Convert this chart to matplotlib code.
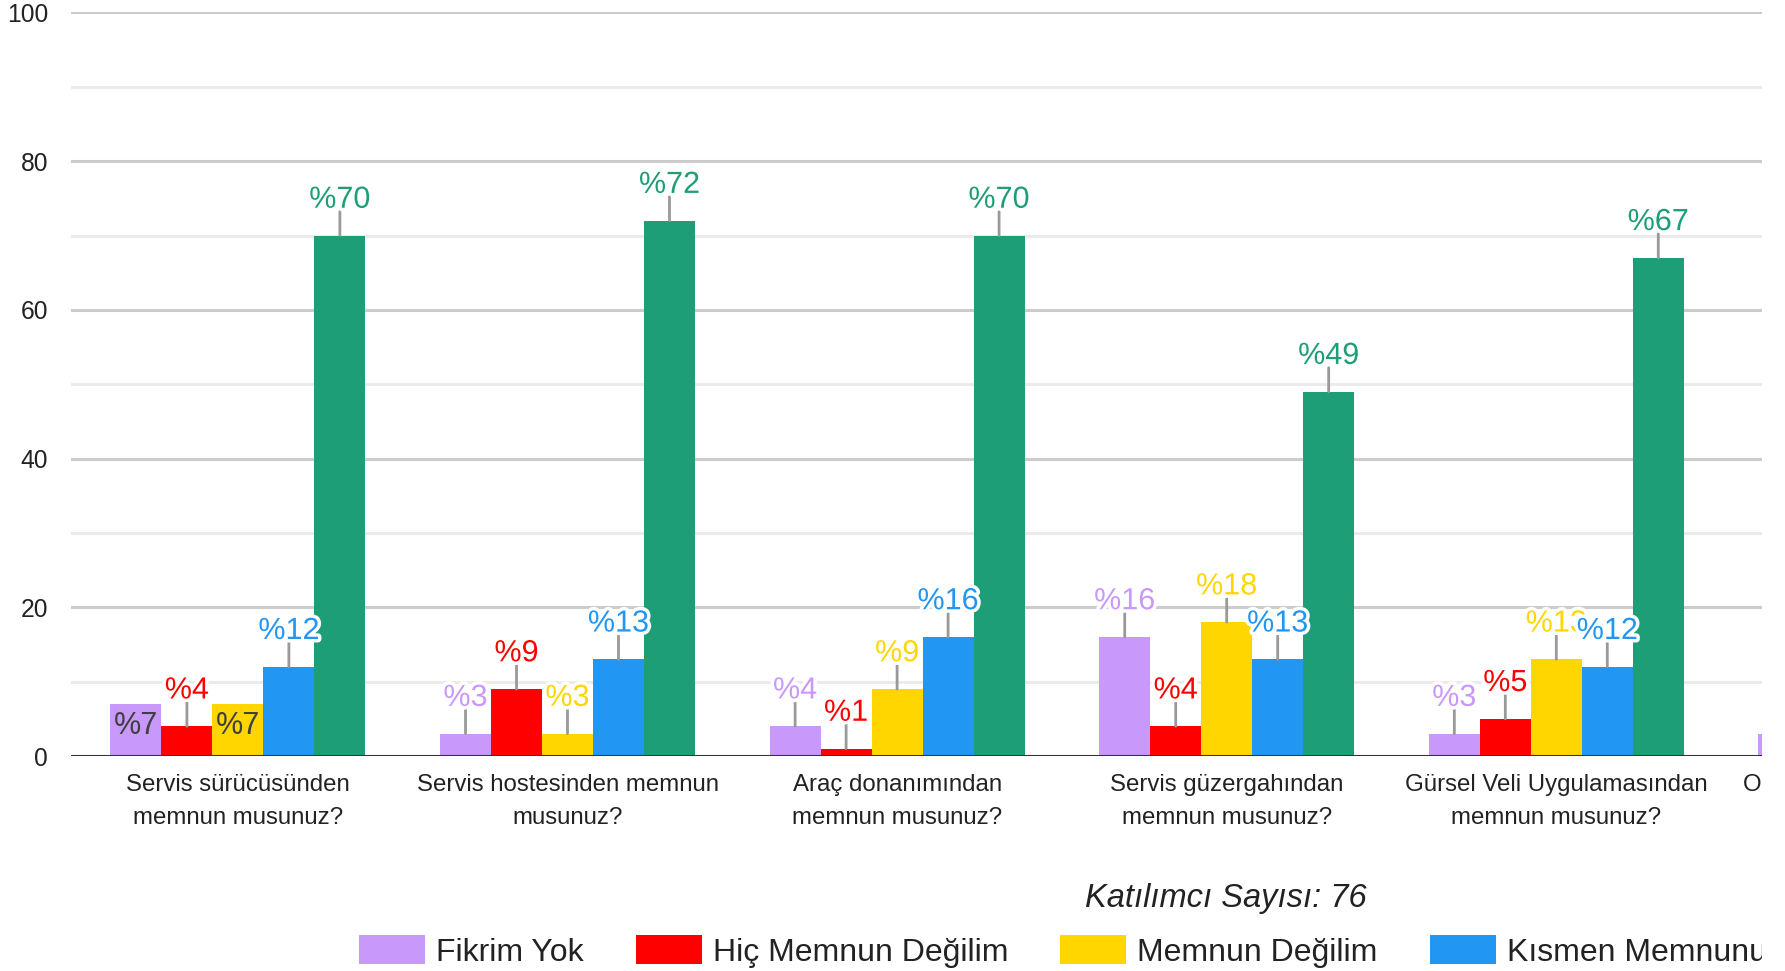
import numpy as np
import matplotlib
matplotlib.use("Agg")
import matplotlib.pyplot as plt
from matplotlib.patches import Patch, Rectangle
import matplotlib.patheffects as pe

plt.rcParams['font.family'] = ['Liberation Sans', 'DejaVu Sans']

questions = [
    "Servis sürücüsünden\nmemnun musunuz?",
    "Servis hostesinden memnun\nmusunuz?",
    "Araç donanımından\nmemnun musunuz?",
    "Servis güzergahından\nmemnun musunuz?",
    "Gürsel Veli Uygulamasından\nmemnun musunuz?",
    "Okul ulaşımından memnun\nmusunuz?",
]
series_names = ["Fikrim Yok", "Hiç Memnun Değilim", "Memnun Değilim",
                "Kısmen Memnunum", "Memnunum"]
fikrim_yok = [7, 3, 4, 16, 3, 3]
hic_memnun = [4, 9, 1, 4, 5, np.nan]
memnun_degil = [7, 3, 9, 18, 13, np.nan]
kismen = [12, 13, 16, 13, 12, np.nan]
memnunum = [70, 72, 70, 49, 67, np.nan]
katilimci = 76

series = [fikrim_yok, hic_memnun, memnun_degil, kismen, memnunum]
colors = ["#c899fb", "#ff0000", "#ffd600", "#2196f3", "#1e9e77"]
# labels that sit inside their bar (series, question)
inside = [(0, 0), (2, 0)]

W, H = 1785, 971
fig = plt.figure(figsize=(W / 100, H / 100), dpi=100)
ax = fig.add_axes([71 / W, 1 - 756 / H, 1 - 71 / W, (756 - 12.5) / H])

bw = 0.1547
x = np.arange(len(questions))
for k, (vals, col) in enumerate(zip(series, colors)):
    ax.bar(x + (k - 2) * bw, vals, bw, color=col, zorder=2)

for k, (vals, col) in enumerate(zip(series, colors)):
    for i, v in enumerate(vals):
        if np.isnan(v):
            continue
        xc = i + (k - 2) * bw
        txt = "%" + str(int(v))
        if (k, i) in inside:
            ax.annotate(txt, xy=(xc, v), xytext=(0, -16), textcoords='offset points',
                        ha='center', va='center', fontsize=22, color='#404040', zorder=5)
            continue
        ax.annotate('', xy=(xc, v), xytext=(0, 17.3), textcoords='offset points',
                    arrowprops=dict(arrowstyle='-', color='#999999', lw=2,
                                    shrinkA=0, shrinkB=0), zorder=4)
        ax.annotate(txt, xy=(xc, v), xytext=(0, 20), textcoords='offset points',
                    ha='center', va='baseline', fontsize=22, color=col, zorder=5,
                    path_effects=[pe.withStroke(linewidth=5, foreground='white')])

for i, q in enumerate(questions):
    ax.annotate(q, xy=(i, 0), xytext=(0, -13), textcoords='offset points',
                ha='center', va='top', fontsize=17.3, color='#222222',
                linespacing=1.62, annotation_clip=False)

ax.set_xlim(-0.5064, (W - 237.9) / 329.6)
ax.set_ylim(0, 100)
ax.set_yticks(range(0, 101, 20))
ax.set_yticks(range(10, 100, 20), minor=True)
ax.set_xticks([])
ax.tick_params(axis='y', which='both', length=0, labelsize=17.7,
               labelcolor='#222222', pad=16.5)
ax.grid(axis='y', which='major', color='#cccccc', lw=2.2)
ax.grid(axis='y', which='minor', color='#ebebeb', lw=2.2)
ax.set_axisbelow(True)
for s in ax.spines.values():
    s.set_visible(False)
ax.axhline(0, color='#333333', lw=2.2, zorder=3)

fig.text(1226 / W, 1 - 898.5 / H, "Katılımcı Sayısı: " + str(katilimci),
         ha='center', va='center', fontsize=23.5, style='italic', color='#222222')

handles = [Patch(facecolor=c, edgecolor='none') for c in colors]
fig.legend(handles, series_names, loc='center left', ncol=5,
           bbox_to_anchor=(359 / W, 1 - 951.5 / H), frameon=False,
           fontsize=23, handlelength=2.07, handleheight=1.0,
           handletextpad=0.34, columnspacing=1.63, borderpad=0, borderaxespad=0,
           labelcolor='#222222')

# the chart is cut off on the right
fig.add_artist(Rectangle((1762 / W, 0), 1, 1, transform=fig.transFigure,
                         facecolor='white', edgecolor='none', zorder=1000))

fig.savefig("out.png", dpi=100, facecolor='white')
